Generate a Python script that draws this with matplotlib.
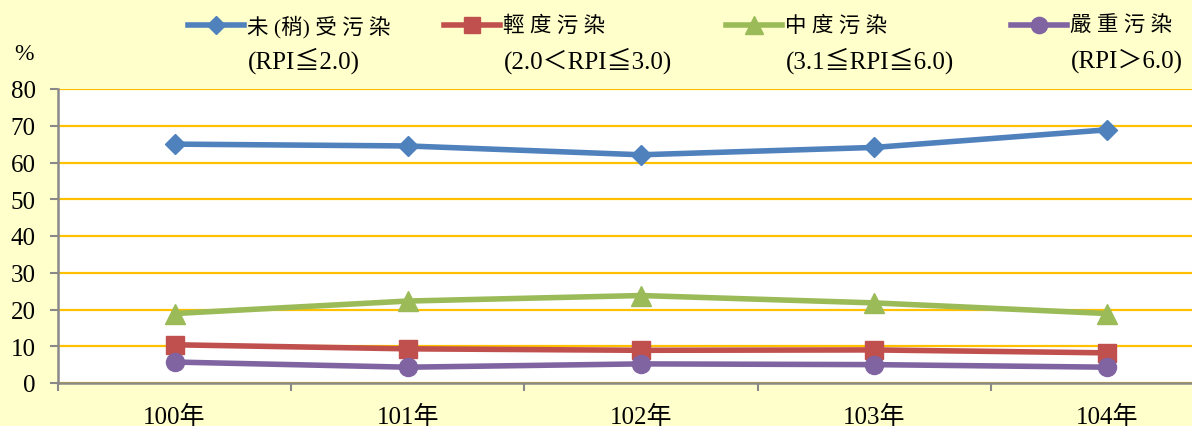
import matplotlib
matplotlib.use("Agg")
import matplotlib.pyplot as plt
from matplotlib.lines import Line2D
import numpy as np

plt.rcParams['font.family'] = ['Liberation Serif', 'Noto Sans CJK TC', 'DejaVu Sans']

# data (percent of river length)
years = ['100年', '101年', '102年', '103年', '104年']
clean = [65.0, 64.5, 62.1, 64.1, 68.9]
light = [10.4, 9.3, 8.9, 9.0, 8.2]
moderate = [18.9, 22.3, 23.8, 21.8, 18.9]
severe = [5.7, 4.3, 5.2, 5.0, 4.3]

names = ['未 (稍) 受 污 染', '輕 度 污 染', '中 度 污 染', '嚴 重 污 染']
ranges = ['(RPI≦2.0)', '(2.0＜RPI≦3.0)', '(3.1≦RPI≦6.0)', '(RPI＞6.0)']
colors = ['#4F81BD', '#C0504D', '#9BBB59', '#8064A2']
markers = ['D', 's', '^', 'o']
msizes = [10.5, 13, 14, 13]

W, H = 1192, 427
fig = plt.figure(figsize=(W / 100, H / 100), dpi=100, facecolor='#FFFFCC')

def px(x, y):
    return x / W, 1 - y / H

# plot area runs past the right edge of the picture (cropped in the original)
ax = fig.add_axes([58 / W, (H - 384) / H, (1224 - 58) / W, (384 - 90) / H])
ax.set_facecolor('white')

x = np.arange(len(years))
series = [clean, light, moderate, severe]
for vals, c, m, ms in zip(series, colors, markers, msizes):
    ax.plot(x, vals, color=c, lw=4, marker=m, ms=ms, mec=c, mfc=c, zorder=3)

ax.set_xlim(-0.5, len(years) - 0.5)
ax.set_ylim(0, 80)
ax.set_yticks(np.arange(0, 81, 10))
ax.yaxis.grid(True, color='#FFC000', lw=1.6)
ax.set_axisbelow(True)

ax.set_xticks(x)
ax.set_xticklabels(years, fontsize=18)
ax.set_xticks(np.arange(-0.5, len(years), 1), minor=True)
ax.tick_params(axis='x', which='major', length=0, pad=16)
ax.tick_params(axis='x', which='minor', length=6, width=1.5, color='#898989', direction='out')
ax.tick_params(axis='y', length=6, width=1.5, color='#898989', pad=10, labelsize=18)

for s in ['top', 'right']:
    ax.spines[s].set_visible(False)
for s in ['left', 'bottom']:
    ax.spines[s].set_color('#898989')
    ax.spines[s].set_linewidth(1.8)

fig.text(*px(24, 55), '%', fontsize=17, ha='center', va='center')

# hand-built two-row legend
leg_x = [188, 444, 726, 1011]
for lx, name, rng, c, m, ms in zip(leg_x, names, ranges, colors, markers, msizes):
    x0, y0 = px(lx, 26)
    x1, _ = px(lx + 56, 26)
    fig.add_artist(Line2D([x0, x1], [y0, y0], transform=fig.transFigure,
                          color=c, lw=4))
    fig.add_artist(Line2D([(x0 + x1) / 2], [y0], transform=fig.transFigure,
                          color=c, marker=m, ms=ms * 0.9, mec=c, mfc=c))
    fig.text(*px(lx + 59, 27), name, fontsize=15.5, ha='left', va='center')
    fig.text(*px(lx + 60, 61), rng, fontsize=18, ha='left', va='center')

fig.savefig('out.png', dpi=100, facecolor=fig.get_facecolor())
